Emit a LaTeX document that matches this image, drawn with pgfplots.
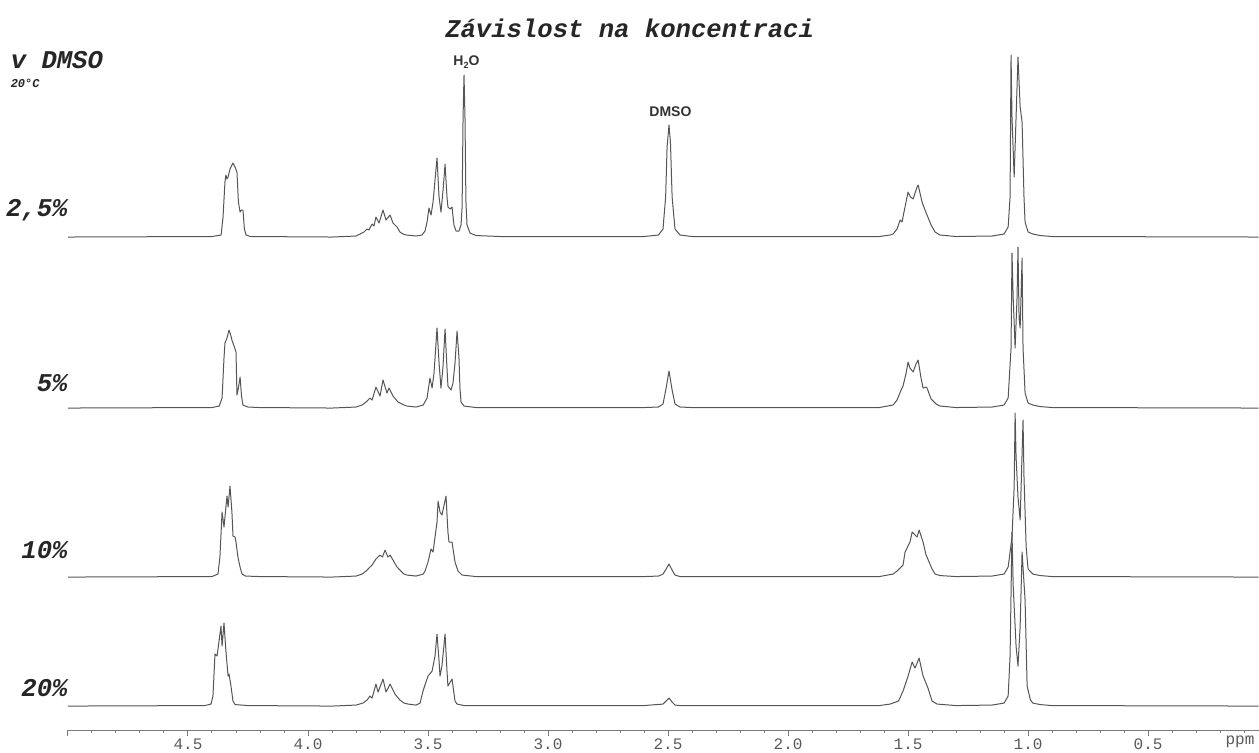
\documentclass[border=0pt]{standalone}
\usepackage{pgfplots}
\usepackage{pgfplotstable}
\pgfplotsset{compat=1.18}
\usepackage{fontspec}
\setmainfont{Liberation Sans}
\newfontfamily\mono{Liberation Mono}
\definecolor{spec}{HTML}{555555}
\definecolor{axgray}{HTML}{7A7A7A}

\pgfplotstableread{
x h
5.0 0
4.40 0.5
4.362 2
4.354 20
4.346 55
4.342 62
4.3375 58
4.333 60
4.325 68
4.3125 74
4.304 70
4.296 65
4.29 35
4.283 25
4.277 27
4.271 27
4.265 8
4.258 2
4.24 0.5
3.9 0
3.80 1
3.783 3
3.767 5
3.754 8
3.746 7
3.733 13
3.725 11
3.717 20
3.704 14
3.6875 27
3.675 17
3.658 22
3.646 14
3.629 10
3.617 5
3.604 3
3.59 2
3.55 1
3.525 2
3.5125 6
3.504 15
3.496 29
3.4875 22
3.479 35
3.4625 79
3.454 40
3.446 25
3.438 45
3.429 73
3.421 40
3.417 30
3.408 28
3.4 30
3.392 12
3.383 6
3.371 6
3.3625 12
3.358 30
3.354 120
3.35 162
3.346 120
3.342 35
3.3375 12
3.325 4
3.30 1.5
3.2 0.5
2.6 0.5
2.54 2
2.521 8
2.51 40
2.504 90
2.496 112
2.49 95
2.483 40
2.471 8
2.45 2
2.4 0.5
1.62 0.5
1.575 2
1.5625 3
1.546 8
1.533 17
1.525 15
1.517 25
1.5 45
1.49 40
1.479 38
1.4625 50
1.458 52
1.4417 35
1.4375 32
1.421 22
1.404 12
1.3875 5
1.367 2
1.3 0.5
1.15 1
1.10 3
1.083 10
1.075 40
1.071 182
1.067 120
1.058 60
1.05 120
1.042 180
1.033 130
1.025 115
1.017 40
1.0125 15
1.0 5
0.98 3
0.95 1.5
0.9 0.5
0.04 0
}\specA

\pgfplotstableread{
x h
5.0 0
4.40 0.5
4.37 2
4.358 10
4.35 50
4.346 65
4.3375 70
4.329 78
4.321 72
4.317 68
4.308 62
4.3 56
4.296 13
4.29 20
4.283 31
4.277 12
4.271 3
4.25 1
4.2 0.5
3.9 0
3.80 1
3.775 3
3.758 6
3.742 10
3.733 8
3.717 21
3.7 12
3.6875 28
3.671 15
3.6625 20
3.646 12
3.625 6
3.6 3
3.5875 2
3.55 1
3.52 3
3.504 10
3.492 30
3.483 20
3.475 35
3.4625 80
3.454 45
3.446 20
3.438 40
3.429 79
3.421 40
3.417 22
3.404 18
3.396 25
3.3875 45
3.379 77
3.371 50
3.367 20
3.3625 6
3.35 2
3.3 0.5
2.6 0.5
2.54 1
2.521 4
2.508 20
2.496 37
2.483 18
2.471 4
2.45 1
2.4 0.5
1.62 0.5
1.5625 3
1.546 8
1.529 18
1.521 22
1.508 35
1.5 46
1.492 40
1.479 36
1.467 44
1.458 48
1.446 30
1.4375 20
1.425 21
1.421 20
1.404 9
1.383 4
1.367 2
1.3 0.5
1.15 1
1.10 3
1.083 10
1.071 60
1.067 155
1.062 110
1.054 60
1.046 110
1.042 161
1.0375 90
1.033 80
1.025 150
1.021 60
1.0125 15
1.0 5
0.98 3
0.95 1.5
0.9 0.5
0.04 0
}\specB

\pgfplotstableread{
x h
5.0 0
4.40 0.5
4.375 3
4.367 20
4.358 65
4.35 50
4.342 70
4.3375 81
4.333 70
4.325 91
4.317 65
4.3125 41
4.304 40
4.3 35
4.292 20
4.283 10
4.275 3
4.26 1
4.2 0.5
3.9 0
3.80 1
3.775 3
3.758 6
3.742 10
3.733 12
3.717 18
3.7 22
3.69 20
3.679 27
3.667 20
3.658 22
3.646 17
3.629 10
3.617 7
3.6 3
3.5875 2
3.55 1
3.52 3
3.5125 6
3.5 15
3.4875 28
3.479 25
3.4625 55
3.458 76
3.45 65
3.442 62
3.425 81
3.417 45
3.4125 35
3.4 35
3.3875 15
3.375 6
3.358 2
3.3 0.5
2.6 0.5
2.54 1
2.521 3
2.508 8
2.496 13
2.483 7
2.471 2
2.45 0.5
1.62 0.5
1.5625 3
1.546 6
1.521 12
1.5125 25
1.492 35
1.483 45
1.4625 40
1.454 47
1.4417 38
1.4375 35
1.425 22
1.421 20
1.4 8
1.3875 3
1.367 1.5
1.3 0.5
1.15 1
1.10 3
1.083 10
1.067 40
1.058 90
1.054 164
1.05 120
1.042 80
1.033 57
1.029 90
1.021 157
1.017 100
1.008 30
1.0 8
0.98 3
0.95 1.5
0.9 0.5
0.04 0
}\specC

\pgfplotstableread{
x h
5.0 0
4.43 0.5
4.404 2
4.396 10
4.3875 52
4.379 50
4.375 57
4.3625 80
4.358 60
4.35 83
4.342 55
4.333 30
4.329 32
4.321 20
4.3125 5
4.304 1.5
4.25 0.5
3.9 0
3.80 1
3.771 3
3.754 6
3.742 10
3.733 8
3.717 22
3.708 14
3.6875 27
3.675 14
3.658 22
3.6375 12
3.617 6
3.6 3
3.583 2
3.55 1
3.533 3
3.521 15
3.5 30
3.483 35
3.471 50
3.4625 72
3.454 45
3.45 30
3.442 40
3.429 72
3.421 35
3.417 20
3.4 27
3.3875 5
3.379 2
3.35 0.5
2.6 0.5
2.521 2
2.508 5
2.496 8
2.483 4
2.471 1
2.45 0.5
1.62 0.5
1.575 2
1.54 5
1.521 15
1.5 30
1.483 44
1.471 38
1.454 48
1.4375 30
1.417 18
1.4 5
1.379 2
1.3 0.5
1.15 1
1.10 3
1.083 10
1.075 50
1.067 174
1.062 120
1.05 60
1.042 40
1.033 80
1.025 154
1.0125 106
1.004 20
0.99 6
0.98 3
0.95 1.5
0.9 0.5
0.04 0
}\specD

\begin{document}
\begin{tikzpicture}
\begin{axis}[
  scale only axis,
  width=595.2pt, height=365pt,
  x dir=reverse,
  xmin=0.04, xmax=5.0,
  ymin=22, ymax=752,
  axis x line*=bottom,
  axis y line=none,
  x axis line style={-, color=axgray, line width=0.5pt},
  ytick=\empty,
  xtick={0.5,1.0,1.5,2.0,2.5,3.0,3.5,4.0,4.5,5.0},
  xticklabels={0.5,1.0,1.5,2.0,2.5,3.0,3.5,4.0,4.5,},
  minor xtick={0.1,0.2,0.3,0.4,0.6,0.7,0.8,0.9,1.1,1.2,1.3,1.4,1.6,1.7,1.8,1.9,2.1,2.2,2.3,2.4,2.6,2.7,2.8,2.9,3.1,3.2,3.3,3.4,3.6,3.7,3.8,3.9,4.1,4.2,4.3,4.4,4.6,4.7,4.8,4.9},
  tick align=outside,
  major tick length=3pt,
  minor tick length=1.5pt,
  tick style={color=axgray, line width=0.5pt},
  xticklabel style={font=\mono\fontsize{8}{9}\selectfont, text=black!65, inner sep=1pt},
  /pgf/number format/assume math mode=true,
  clip=false,
]
\path (axis cs:5.2833,0) rectangle (axis cs:0.04,752);
\addplot[spec, line width=0.5pt, line join=round] table[x=x, y expr=\thisrow{h}+515] {\specA};
\addplot[spec, line width=0.5pt, line join=round] table[x=x, y expr=\thisrow{h}+344] {\specB};
\addplot[spec, line width=0.5pt, line join=round] table[x=x, y expr=\thisrow{h}+175] {\specC};
\addplot[spec, line width=0.5pt, line join=round] table[x=x, y expr=\thisrow{h}+46] {\specD};

\node[font=\mono\bfseries\itshape\fontsize{12.8}{14}\selectfont, text=black!85] at (axis cs:2.66,724) {Závislost na koncentraci};
\node[font=\mono\bfseries\itshape\fontsize{12.8}{14}\selectfont, anchor=west, text=black!85, inner sep=0pt] at (axis cs:5.24,692) {v DMSO};
\node[font=\mono\bfseries\itshape\fontsize{6}{7}\selectfont, anchor=west, text=black!85, inner sep=0pt] at (axis cs:5.24,669) {20°C};
\node[font=\mono\bfseries\itshape\fontsize{12.8}{14}\selectfont, anchor=east, text=black!85, inner sep=0pt] at (axis cs:5.0,542) {2,5\%};
\node[font=\mono\bfseries\itshape\fontsize{12.8}{14}\selectfont, anchor=east, text=black!85, inner sep=0pt] at (axis cs:5.0,369) {5\%};
\node[font=\mono\bfseries\itshape\fontsize{12.8}{14}\selectfont, anchor=east, text=black!85, inner sep=0pt] at (axis cs:5.0,202) {10\%};
\node[font=\mono\bfseries\itshape\fontsize{12.8}{14}\selectfont, anchor=east, text=black!85, inner sep=0pt] at (axis cs:5.0,64) {20\%};
\node[font=\bfseries\fontsize{7}{8}\selectfont, text=black!80, inner sep=0pt] at (axis cs:3.34,690) {H\raisebox{-0.35ex}{\fontsize{4.5}{5}\selectfont 2}O};
\node[font=\bfseries\fontsize{7}{8}\selectfont, text=black!80, inner sep=0pt] at (axis cs:2.49,640) {DMSO};
\node[font=\mono\fontsize{8}{9}\selectfont, text=black!65, inner sep=0pt] at (axis cs:0.117,10) {ppm};
\end{axis}
\end{tikzpicture}
\end{document}
